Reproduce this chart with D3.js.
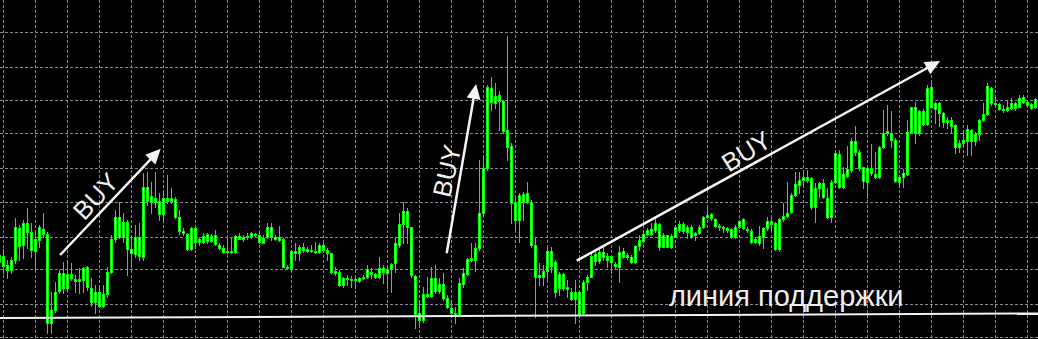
<!DOCTYPE html>
<html><head><meta charset="utf-8">
<script src="https://cdn.jsdelivr.net/npm/d3@7"></script>
<style>html,body{margin:0;padding:0;background:#000;overflow:hidden}</style>
</head><body><svg id="c" width="1038" height="339"></svg>
<script>
// ---- DATA (price units) ----
const opens = [
77,83,74,69,79,111,94,116,107,88,
99,110,105,16,29,48,66,51,65,60,
58,59,72,51,37,47,33,45,67,100,
122,102,117,90,85,102,82,152,137,141,
138,125,141,138,140,122,108,105,90,111,
97,97,105,98,104,94,91,87,88,87,
103,100,102,103,105,104,96,102,112,102,
99,100,72,71,88,86,92,90,88,88,
87,94,89,86,68,67,54,61,60,59,
61,61,62,67,65,62,71,66,70,76,
94,115,128,112,63,26,19,45,43,61,
48,55,41,31,26,24,55,65,79,79,
91,126,171,251,236,244,238,209,193,137,
119,145,137,137,94,62,62,68,88,77,
51,65,52,47,40,47,26,57,62,85,
78,87,83,77,75,72,88,82,82,77,
93,98,105,110,109,115,92,104,92,102,
109,115,107,112,104,106,112,122,125,120,
113,112,111,110,102,112,120,110,108,97,
103,102,111,118,116,90,120,123,127,144,
154,159,162,161,132,151,156,141,122,157,
185,152,163,169,198,187,172,157,171,165,
162,192,206,206,199,157,162,165,207,232,
206,228,215,252,230,236,226,217,219,214,
192,196,198,209,198,205,219,225,251,236,
235,230,229,231,236,232,242,237,235,232];
const highs = [
89,90,79,82,121,114,119,131,116,107,
114,126,107,47,57,69,77,79,76,64,
71,72,73,61,54,54,54,72,104,129,
137,126,119,101,114,116,166,167,157,167,
146,149,164,151,142,129,111,106,112,112,
102,106,106,105,109,96,94,101,101,104,
106,104,106,107,106,107,104,116,116,104,
113,101,74,89,96,94,96,92,94,97,
96,96,91,86,72,69,62,64,63,62,
62,64,74,71,66,82,74,74,76,102,
126,137,131,112,64,39,52,62,72,74,
61,66,44,39,32,61,71,81,96,96,
179,184,254,262,256,248,239,303,196,142,
146,147,157,139,102,76,74,91,92,79,
67,66,59,51,59,49,59,64,86,87,
91,92,86,84,77,93,91,86,84,94,
104,109,111,116,122,116,106,104,105,114,
118,117,114,114,107,114,123,131,126,121,
115,113,112,111,114,119,121,112,110,102,
113,112,122,121,117,121,136,157,146,167,
167,166,169,162,156,157,160,151,159,189,
189,172,193,201,213,189,172,172,195,187,
193,229,234,228,201,164,170,219,232,237,
229,230,254,256,237,237,227,222,222,215,
199,209,214,210,207,220,236,256,252,242,
236,234,238,241,237,244,244,239,236,241];
const lows = [
74,66,61,66,76,79,81,91,82,69,
92,102,6,6,27,46,46,49,59,47,
46,47,49,33,26,32,32,42,66,97,
101,97,64,72,82,79,79,134,126,132,
119,117,136,136,121,105,104,89,89,91,
94,96,96,97,94,90,86,86,86,86,
100,98,100,101,103,96,96,101,99,99,
98,72,70,70,79,79,87,87,87,86,
86,87,79,66,64,53,52,54,52,51,
57,60,61,61,61,61,56,51,47,67,
92,96,96,62,11,12,17,42,42,46,
46,39,31,25,16,23,52,64,78,68,
89,124,169,229,231,209,206,179,116,109,
97,119,136,92,22,54,54,59,67,42,
44,49,42,39,16,24,24,49,62,74,
76,79,72,66,71,57,81,80,76,76,
89,97,104,104,107,89,92,92,91,102,
107,106,101,101,99,105,111,121,119,112,
109,107,107,101,101,111,110,107,96,96,
94,91,109,109,89,88,118,122,126,143,
146,152,157,130,117,142,141,121,117,156,
151,151,162,167,184,169,151,141,164,161,
161,191,204,192,157,152,152,164,206,196,
204,214,214,231,216,213,212,211,207,186,
187,194,184,184,194,199,218,224,234,232,
229,227,228,230,229,232,236,233,230,231];
const closes = [
84,73,69,79,112,93,116,107,89,100,
112,105,16,29,47,66,51,65,61,58,
60,71,52,37,47,33,45,67,100,122,
102,117,90,86,102,83,152,138,143,137,
125,141,138,141,122,108,106,90,111,97,
100,103,98,103,95,91,87,88,87,103,
100,102,103,106,104,97,101,112,102,100,
102,72,71,88,86,92,89,88,89,87,
94,89,86,67,66,54,61,60,59,60,
58,62,70,65,62,71,67,70,75,96,
115,128,112,64,25,19,45,43,61,48,
55,41,32,26,24,56,66,80,81,91,
126,171,252,237,243,238,208,192,136,119,
144,137,146,94,62,64,68,88,73,47,
65,51,50,40,47,25,57,62,83,78,
87,82,79,83,73,87,82,84,77,93,
99,105,109,105,116,92,104,92,103,112,
115,108,112,102,106,112,122,124,121,113,
112,111,109,102,112,118,111,109,97,100,
96,111,118,115,90,120,123,126,144,155,
159,162,159,132,151,156,142,122,157,186,
152,165,170,198,187,171,158,171,166,162,
192,206,208,199,158,162,166,207,232,206,
228,215,251,232,236,226,217,219,213,192,
196,199,210,198,205,219,225,253,236,235,
230,229,232,236,231,241,237,234,231,240];
const bars = d3.range(opens.length);           // bar index (time axis)
const priceGrid = [2, 35, 70, 102, 137, 171, 206, 239, 272, 307];
const timeGrid = d3.range(1, opens.length, 8);
const supportLine = [{k: -0.8, p: 21}, {k: 259.7, p: 25.5}];
const arrows = [
  {from: {k: 15.2, p: 84},   to: {k: 40.35, p: 190.3}},
  {from: {k: 111.85, p: 85.7}, to: {k: 119.2, p: 255}},
  {from: {k: 144.35, p: 78.3}, to: {k: 235.2, p: 278}}
];
const buyLabels = [
  {text: "BUY", k: 24.05, p: 143, angle: -47},
  {text: "BUY", k: 111.85, p: 168.2, angle: -77},
  {text: "BUY", k: 186.7, p: 188, angle: -32}
];
const supportLabel = {text: "линия поддержки", k: 167.4, p: 33};

// ---- DRAW ----
(function () {
const W = 1038, H = 339;
const svg = d3.select("#c");
const x = d3.scaleLinear().domain([0, 259]).range([-0.7, 1035.3]);
const y = d3.scaleLinear().domain([0, 339]).range([H, 0]);

svg.append("rect").attr("width", W).attr("height", H).attr("fill", "#000");

const grid = svg.append("g").attr("stroke", "#808b9b").attr("stroke-width", 1)
  .attr("stroke-dasharray", "3,2").attr("shape-rendering", "crispEdges");
grid.selectAll("line.h").data(priceGrid).join("line").attr("class", "h")
  .attr("x1", 0).attr("x2", W)
  .attr("y1", d => Math.floor(y(d)) + 0.5).attr("y2", d => Math.floor(y(d)) + 0.5);
grid.selectAll("line.v").data(timeGrid).join("line").attr("class", "v")
  .attr("y1", 0).attr("y2", H)
  .attr("x1", d => Math.floor(x(d)) + 0.5).attr("x2", d => Math.floor(x(d)) + 0.5);

const cg = svg.append("g").attr("shape-rendering", "crispEdges");
const c = cg.selectAll("g").data(bars).join("g");
c.append("line")
  .attr("x1", k => Math.floor(x(k)) + 0.5).attr("x2", k => Math.floor(x(k)) + 0.5)
  .attr("y1", k => Math.round(y(highs[k]))).attr("y2", k => Math.round(y(lows[k])) + 1)
  .attr("stroke", "#00ff00").attr("stroke-width", 1);
const bodyTop = k => Math.round(y(Math.max(opens[k], closes[k])));
const bodyH = k => Math.max(1, Math.round(y(Math.min(opens[k], closes[k]))) - bodyTop(k) + 1);
c.append("rect")
  .attr("x", k => Math.floor(x(k)) - 1).attr("width", 3)
  .attr("y", bodyTop).attr("height", bodyH).attr("fill", "#00ff00");
c.filter(k => bodyH(k) > 2).append("rect")
  .attr("x", k => Math.floor(x(k))).attr("width", 1)
  .attr("y", k => bodyTop(k) + 1).attr("height", k => bodyH(k) - 2).attr("fill", "#eaffea");

// support line
svg.append("line")
  .attr("x1", x(supportLine[0].k)).attr("y1", y(supportLine[0].p))
  .attr("x2", x(supportLine[1].k)).attr("y2", y(supportLine[1].p))
  .attr("stroke", "#f2f2f2").attr("stroke-width", 2);

// arrows
const headL = 15, headW = 7;
arrows.forEach(a => {
  const x1 = x(a.from.k), y1 = y(a.from.p), x2 = x(a.to.k), y2 = y(a.to.p);
  const len = Math.hypot(x2 - x1, y2 - y1), ux = (x2 - x1) / len, uy = (y2 - y1) / len;
  const bx = x2 - ux * headL, by = y2 - uy * headL;
  svg.append("line").attr("x1", x1).attr("y1", y1).attr("x2", bx + ux * 2).attr("y2", by + uy * 2)
    .attr("stroke", "#f4f4f4").attr("stroke-width", 2.5);
  svg.append("path")
    .attr("d", `M${x2},${y2}L${bx - uy * headW},${by + ux * headW}L${bx + uy * headW},${by - ux * headW}Z`)
    .attr("fill", "#f4f4f4");
});

svg.selectAll("text.buy").data(buyLabels).join("text").attr("class", "buy")
  .attr("transform", d => `translate(${x(d.k)},${y(d.p)}) rotate(${d.angle})`)
  .attr("text-anchor", "middle").attr("dy", "0.36em")
  .attr("font-family", "'Liberation Sans', Arial, sans-serif").attr("font-size", 25.5)
  .attr("fill", "#f2f2f2").text(d => d.text);

svg.append("text")
  .attr("x", x(supportLabel.k)).attr("y", y(supportLabel.p))
  .attr("font-family", "'Liberation Sans', Arial, sans-serif").attr("font-size", 29)
  .attr("fill", "#eeeeee").text(supportLabel.text);
})();
</script></body></html>
